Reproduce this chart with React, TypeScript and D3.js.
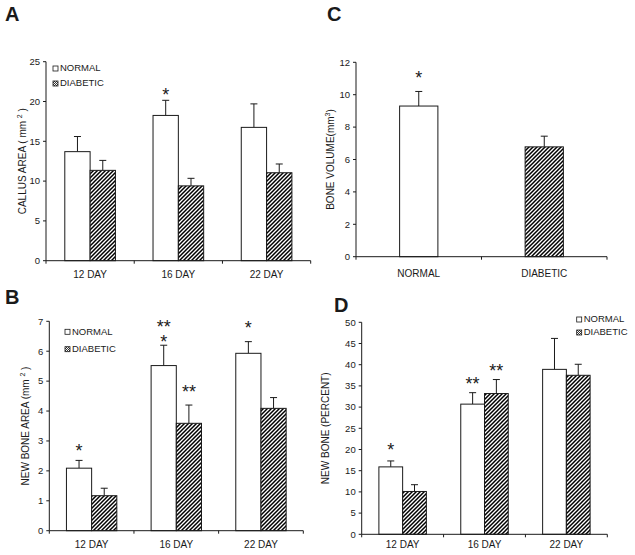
import * as d3 from "d3";

// ---- data ----
const days = ["12 DAY", "16 DAY", "22 DAY"];
const groups = ["NORMAL", "DIABETIC"];

// A: callus area (mm2)
const callusNormal = [13.7, 18.25, 16.75];
const callusNormalErr = [15.6, 20.15, 19.7];
const callusDiabetic = [11.35, 9.4, 11.05];
const callusDiabeticErr = [12.6, 10.35, 12.15];

// B: new bone area (mm2)
const areaNormal = [2.09, 5.52, 5.93];
const areaNormalErr = [2.35, 6.2, 6.32];
const areaDiabetic = [1.17, 3.59, 4.09];
const areaDiabeticErr = [1.42, 4.2, 4.45];

// C: bone volume (mm3)
const volumeValues = [9.3, 6.78];
const volumeErr = [10.2, 7.44];

// D: new bone percent
const percentNormal = [15.9, 30.7, 38.9];
const percentNormalErr = [17.3, 33.4, 46.2];
const percentDiabetic = [10.1, 33.2, 37.5];
const percentDiabeticErr = [11.7, 36.5, 40.1];

// significance marks: [category, series, label, y value]
const callusStars = [["16 DAY", 0, "*", 21.4]];
const volumeStars = [["NORMAL", 0, "*", 11.28]];
const areaStars = [
  ["12 DAY", 0, "*", 2.81],
  ["16 DAY", 0, "*", 6.45],
  ["16 DAY", 0, "**", 6.96],
  ["16 DAY", 1, "**", 4.8],
  ["22 DAY", 0, "*", 6.94],
];
const percentStars = [
  ["12 DAY", 0, "*", 21.0],
  ["16 DAY", 0, "**", 36.6],
  ["16 DAY", 1, "**", 39.5],
];

const FONT = "'Liberation Sans', Arial, sans-serif";
const INK = "#1a1a1a";

type Series = { values: number[]; err: number[] };

function Panel(props: any) {
  const { cats, series, max, step, x0, x1, yTop, yBot, pad, labelGap, stars, yLabel, yLabelX, letter, letterX, letterY, legend } = props;
  const y = d3.scaleLinear().domain([0, max]).range([yBot, yTop]);
  const x = d3.scaleBand().domain(cats).range([x0, x1]).paddingInner(pad).paddingOuter(pad / 2);
  const inner = d3.scaleBand().domain(d3.range(series.length).map(String)).range([0, x.bandwidth()]);
  const ticks = d3.range(0, max + step / 2, step);
  const stepW = (x1 - x0) / cats.length;
  const fills = ["#fff", "url(#hatch)"];
  // a single-series panel alternates fills by category, otherwise by series
  const barFill = (ci: number, si: number) => (series.length === 1 ? fills[ci] : fills[si]);
  const bars: any[] = [];
  series.forEach((s: Series, si: number) => {
    cats.forEach((c: string, ci: number) => {
      const v = s.values[ci];
      const e = s.err[ci];
      const bx = (x(c) as number) + (inner(String(si)) as number);
      const bw = inner.bandwidth();
      const cx = bx + bw / 2;
      bars.push(
        <g key={`${si}-${ci}`}>
          <line x1={cx} x2={cx} y1={y(v)} y2={y(e)} stroke={INK} strokeWidth={1} />
          <line x1={cx - 3.5} x2={cx + 3.5} y1={y(e)} y2={y(e)} stroke={INK} strokeWidth={1} />
          <rect x={bx} y={y(v)} width={bw} height={yBot - y(v)} fill={barFill(ci, si)} stroke={INK} strokeWidth={1} />
        </g>
      );
    });
  });
  const yMid = (yTop + yBot) / 2;
  return (
    <g fontFamily={FONT} fill={INK}>
      <text x={letterX} y={letterY} fontSize={20} fontWeight="bold">{letter}</text>
      {bars}
      {/* y axis */}
      <line x1={x0} x2={x0} y1={yTop} y2={yBot} stroke={INK} />
      {ticks.map((t: number) => (
        <g key={t}>
          <line x1={x0 - 3} x2={x0} y1={y(t)} y2={y(t)} stroke={INK} />
          <text x={x0 - 6} y={y(t)} dy="0.35em" textAnchor="end" fontSize={9.5}>{t}</text>
        </g>
      ))}
      {/* x axis */}
      <line x1={x0} x2={x1} y1={yBot} y2={yBot} stroke={INK} />
      {d3.range(cats.length + 1).map((i) => (
        <line key={i} x1={x0 + i * stepW} x2={x0 + i * stepW} y1={yBot} y2={yBot + 3} stroke={INK} />
      ))}
      {cats.map((c: string) => (
        <text key={c} x={(x(c) as number) + x.bandwidth() / 2} y={yBot + labelGap} textAnchor="middle" fontSize={10}>{c}</text>
      ))}
      {stars.map((s: any, i: number) => {
        const cx = (x(s[0]) as number) + (inner(String(s[1])) as number) + inner.bandwidth() / 2;
        return (
          <text key={i} x={cx} y={y(s[3]) + 10.5} textAnchor="middle" fontSize={18}>{s[2]}</text>
        );
      })}
      <text transform={`translate(${yLabelX},${yMid}) rotate(-90)`} textAnchor="middle" dy="0.35em" fontSize={10}>{yLabel}</text>
      {legend && (
        <g fontSize={9.5}>
          <rect x={legend[0]} y={legend[1]} width={5} height={5} fill="#fff" stroke={INK} strokeWidth={0.8} />
          <text x={legend[0] + 7} y={legend[1] + 5.2}>{groups[0]}</text>
          <rect x={legend[0]} y={legend[1] + legend[2]} width={5} height={5} fill="url(#hatchSmall)" stroke={INK} strokeWidth={0.8} />
          <text x={legend[0] + 7} y={legend[1] + legend[2] + 5.2}>{groups[1]}</text>
        </g>
      )}
    </g>
  );
}

const sup = (base: string, s: string, tail: string) => (
  <>
    {base}
    <tspan dy={-3.5} fontSize={7}>{s}</tspan>
    <tspan dy={3.5}>{tail}</tspan>
  </>
);

export default function App() {
  return (
    <svg width={635} height={555} style={{ position: "absolute", left: 0, top: 0, background: "#fff" }}>
      <defs>
        <pattern id="hatch" patternUnits="userSpaceOnUse" width={4} height={4}>
          <rect width={4} height={4} fill="#fff" />
          <path d="M-1,1 L1,-1 M0,4 L4,0 M3,5 L5,3" stroke="#000" strokeWidth={1.5} />
        </pattern>
        <pattern id="hatchSmall" patternUnits="userSpaceOnUse" width={2} height={2}>
          <rect width={2} height={2} fill="#fff" />
          <path d="M-0.5,0.5 L0.5,-0.5 M0,2 L2,0 M1.5,2.5 L2.5,1.5" stroke="#000" strokeWidth={0.8} />
        </pattern>
      </defs>
      <rect width={635} height={555} fill="#fff" />
      <Panel
        cats={days}
        series={[{ values: callusNormal, err: callusNormalErr }, { values: callusDiabetic, err: callusDiabeticErr }]}
        max={25} step={5} x0={46} x1={310.7} yTop={61.7} yBot={260.7} pad={0.426} labelGap={17.6}
        stars={callusStars} yLabel={sup("CALLUS AREA ( mm ", "2", " )")} yLabelX={22}
        letter="A" letterX={5} letterY={21} legend={[53, 66, 15]}
      />
      <Panel
        cats={groups}
        series={[{ values: volumeValues, err: volumeErr }]}
        max={12} step={2} x0={356} x1={607} yTop={62.3} yBot={256.7} pad={0.695} labelGap={20}
        stars={volumeStars} yLabel={sup("BONE  VOLUME(mm", "3", ")")} yLabelX={330}
        letter="C" letterX={327} letterY={21}
      />
      <Panel
        cats={days}
        series={[{ values: areaNormal, err: areaNormalErr }, { values: areaDiabetic, err: areaDiabeticErr }]}
        max={7} step={1} x0={49.3} x1={303.3} yTop={321.3} yBot={530.7} pad={0.405} labelGap={17.6}
        stars={areaStars} yLabel={sup("NEW BONE AREA (mm ", "2", " )")} yLabelX={25}
        letter="B" letterX={5} letterY={304} legend={[65, 329.3, 17.4]}
      />
      <Panel
        cats={days}
        series={[{ values: percentNormal, err: percentNormalErr }, { values: percentDiabetic, err: percentDiabeticErr }]}
        max={50} step={5} x0={361.7} x1={607.3} yTop={322.3} yBot={534.3} pad={0.42} labelGap={14}
        stars={percentStars} yLabel={"NEW BONE (PERCENT)"} yLabelX={325}
        letter="D" letterX={334} letterY={311.7} legend={[576.7, 317, 13]}
      />
    </svg>
  );
}
